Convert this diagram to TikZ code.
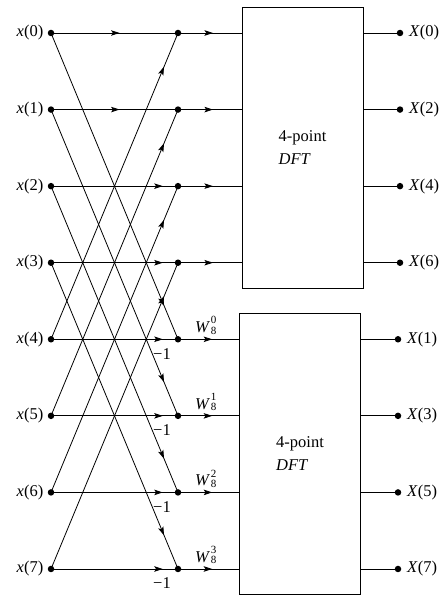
\documentclass[tikz,border=0pt]{standalone}
\usepackage{fontspec}
\setmainfont{Liberation Serif}
\usetikzlibrary{arrows.meta,decorations.markings}
\tikzset{
  dot/.style={circle,fill=black,inner sep=0pt,minimum size=6.5bp},
  wire/.style={line width=0.8bp},
  midarrow/.style={postaction={decorate},decoration={markings,
      mark=at position #1 with {\arrow{Stealth[length=8.5bp,width=5.5bp,inset=1.8bp]}}}},
  lbl/.style={inner sep=0pt},
  dftbox/.style={draw,line width=0.9bp,align=left,minimum width=121bp,minimum height=281bp,inner sep=0pt},
}
\newcommand{\twiddle}[1]{\textit{W}\hspace{0.8bp}\raisebox{-1.5bp}{\fontsize{11bp}{10bp}\selectfont\shortstack[l]{#1\\8}}}
\begin{document}
\begin{tikzpicture}[x=1bp,y=-1bp,font=\fontsize{16.5bp}{23bp}\selectfont]
\useasboundingbox (0,0) rectangle (447,611);
% boxes
\node[dftbox] (B1) at (302.5,147.5) {4-point\\\textit{DFT}};
\node[dftbox] (B2) at (300,454) {4-point\\\textit{DFT}};
% dots and input labels
\foreach \k in {0,...,7} {
  \pgfmathsetmacro{\yy}{33+76.57*\k}
  \node[dot] (a\k) at (51,\yy) {};
  \node[dot] (m\k) at (178,\yy) {};
  \node[lbl,anchor=east] (xl\k) at (43.5,\yy) {\textit{x}(\k)};
}
% horizontal branches
\draw[wire,midarrow=0.54] (a0.center) -- (m0.center);
\draw[wire,midarrow=0.54] (a1.center) -- (m1.center);
\foreach \k in {2,...,7} {
  \draw[wire,midarrow=0.88] (a\k.center) -- (m\k.center);
}
% diagonal branches
\foreach \k/\j in {0/4,1/5,2/6,3/7,4/0,5/1,6/2,7/3} {
  \draw[wire,midarrow=0.89] (a\k.center) -- (m\j.center);
}
% inputs to the DFT boxes
\foreach \k in {0,...,3} {
  \draw[wire,midarrow=0.55] (m\k.center) -- (m\k.center -| B1.west);
}
\foreach \k in {4,...,7} {
  \draw[wire,midarrow=0.56] (m\k.center) -- (m\k.center -| B2.west);
}
% -1 and twiddle labels
\foreach \k/\w in {4/0,5/1,6/2,7/3} {
  \pgfmathsetmacro{\yy}{33+76.57*\k}
  \node[lbl] (n\k) at (162,\yy+14.5) {−1};
  \node[lbl,anchor=base west] (w\k) at (195,\yy-6.5) {\twiddle{\w}};
}
% outputs
\foreach \k/\o in {0/0,1/2,2/4,3/6} {
  \pgfmathsetmacro{\yy}{33+76.57*\k}
  \node[dot] (o\o) at (400,\yy) {};
  \node[lbl,anchor=west] (X\o) at (409,\yy) {\textit{X}(\o)};
  \draw[wire] (B1.east |- o\o) -- (o\o.center);
}
\foreach \k/\o in {4/1,5/3,6/5,7/7} {
  \pgfmathsetmacro{\yy}{33+76.57*\k}
  \node[dot] (o\o) at (398,\yy) {};
  \node[lbl,anchor=west] (X\o) at (407,\yy) {\textit{X}(\o)};
  \draw[wire] (B2.east |- o\o) -- (o\o.center);
}
\end{tikzpicture}
\end{document}
